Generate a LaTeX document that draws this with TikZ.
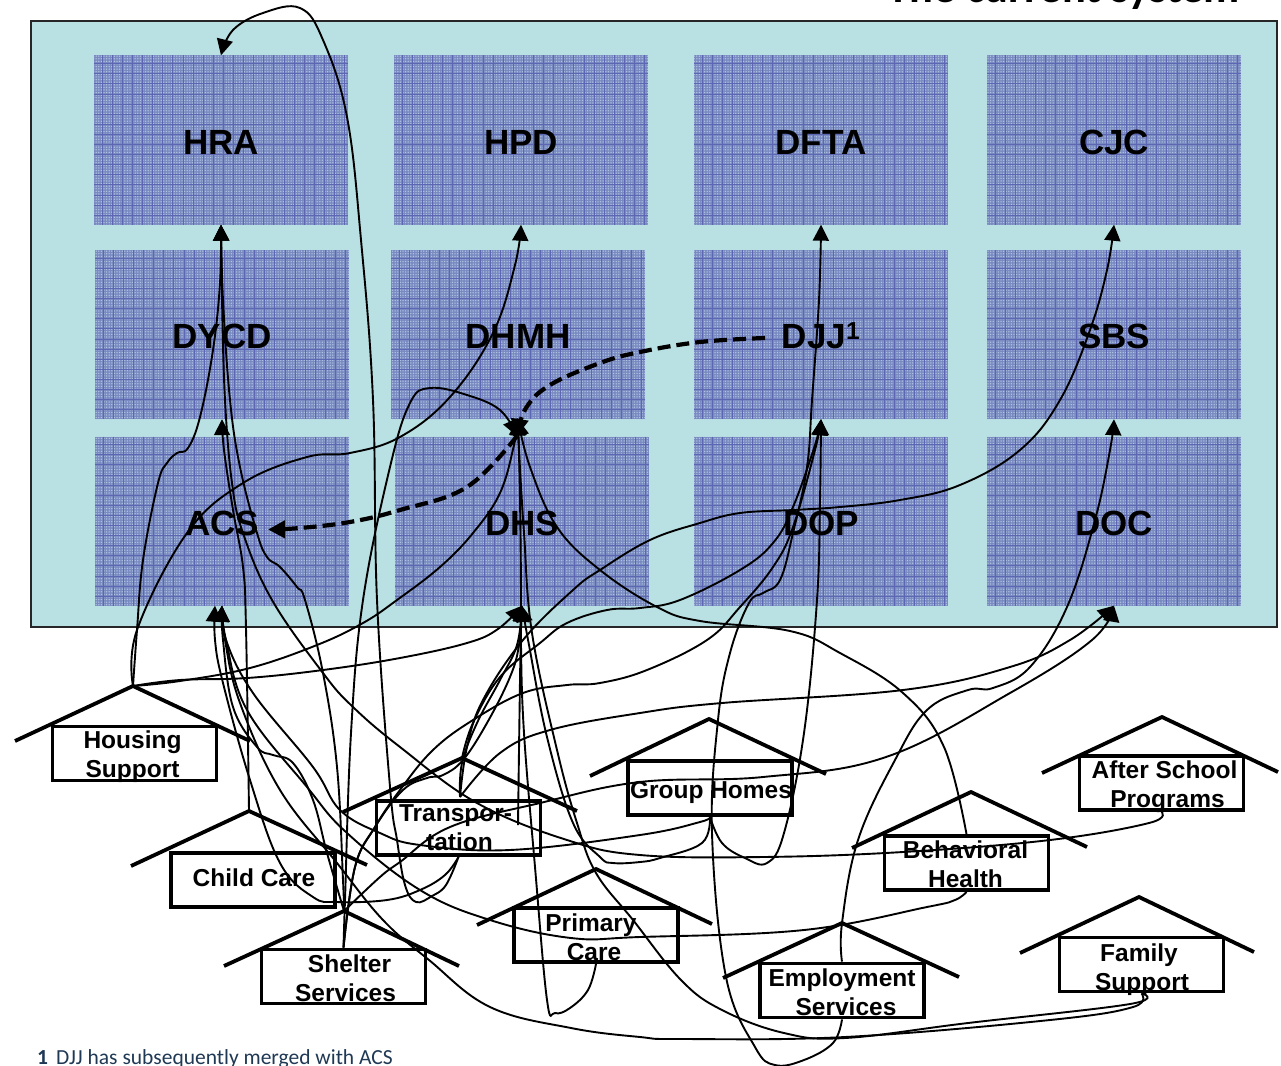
\documentclass[tikz,border=0pt]{standalone}
\usepackage{fontspec}
\setmainfont{Liberation Sans}
\newfontfamily\carlito{Carlito}
\usetikzlibrary{arrows.meta,calc,patterns.meta}
\definecolor{panelteal}{RGB}{185,224,226}
\definecolor{agencyfill}{RGB}{120,138,192}
\definecolor{agencydot}{RGB}{178,196,228}
\definecolor{agencygrid}{RGB}{92,102,178}
\definecolor{footcol}{RGB}{31,56,84}
\newcommand{\hlabel}[3]{\smash{\raisebox{\dimexpr#2-6pt\relax}{\makebox[0pt]{\hspace*{#1}\begin{tabular}{@{}c@{}}#3\end{tabular}}}}}
\tikzset{
  panel/.style={draw=black!85,line width=1.6pt,fill=panelteal,inner sep=0pt,minimum width=1246pt,minimum height=606pt},
  agency/.style={inner sep=0pt,minimum width=254pt,minimum height=169pt,
     font=\fontsize{35}{37}\selectfont\bfseries,text height=28pt,text depth=0pt,
     preaction={fill=agencyfill},
     preaction={pattern={Dots[distance=2.6pt,radius=.75pt]},pattern color=agencydot},
     path picture={
       \foreach \i in {1,...,25} \draw[agencygrid,line width=.7pt]
          ([xshift=\i*10.1pt-2pt]path picture bounding box.north west) -- ([xshift=\i*10.1pt-2pt]path picture bounding box.south west);
       \foreach \i in {1,...,16} \draw[agencygrid,line width=.7pt]
          ([yshift=-\i*10.1pt+2pt]path picture bounding box.north west) -- ([yshift=-\i*10.1pt+2pt]path picture bounding box.north east);
     }},
  housebox/.style={draw=black,line width=3.8pt,inner sep=0pt,minimum width=164pt,minimum height=54pt,
     font=\fontsize{24.5}{29}\selectfont\bfseries},
  roof/.style={draw=black,line width=3.8pt,line join=miter},
  conn/.style={draw=black,line width=1.9pt,-{Triangle[length=16pt,width=16pt]}},
  dashconn/.style={draw=black,line width=4.2pt,dash pattern=on 13pt off 6pt,-{Triangle[length=17pt,width=17pt]}},
  sm/.style={smooth,tension=0.65}
}
\newcommand{\curve}[1]{\draw[conn] plot[sm] coordinates {#1};}
\begin{document}
\begin{tikzpicture}[x=1pt,y=-1pt]
\useasboundingbox (0,0) rectangle (1281,1065);
\node[font=\carlito\fontsize{44.5}{48}\selectfont\bfseries,anchor=base east,inner sep=0pt] (title) at (1240,3) {The current system};
\node[panel] (system) at (654,324) {};
% agencies
\node[agency] (hra) at (221,140) {HRA};
\node[agency] (hpd) at (521,140) {HPD};
\node[agency] (dfta) at (821,140) {DFTA};
\node[agency] (cjc) at (1114,140) {CJC};
\node[agency] (dycd) at (222,334.5) {DYCD};
\node[agency] (dhmh) at (518,334.5) {DHMH};
\node[agency] (djj) at (821,334.5) {DJJ\textsuperscript{1}};
\node[agency] (sbs) at (1114,334.5) {SBS};
\node[agency] (acs) at (222,521) {ACS};
\node[agency] (dhs) at (522,521) {DHS};
\node[agency] (dop) at (821,521) {DOP};
\node[agency] (doc) at (1114,521) {DOC};
% houses
\node[housebox] (housing) at (134.5,753.5) {\hlabel{-4pt}{-3.5pt}{Housing\\Support}};
\draw[roof] (15,741) -- (133,686) coordinate (housingA) -- (250,741);
\node[housebox] (child) at (253,880) {\hlabel{2pt}{-1pt}{Child Care}};
\draw[roof] (131,866) -- (249,811) coordinate (childA) -- (367,865);
\node[housebox] (shelter) at (343.5,976.5) {\hlabel{4pt}{-5pt}{\hspace*{8pt}Shelter\\Services}};
\draw[roof] (224,966) -- (344,911) coordinate (shelterA) -- (459,966);
\node[housebox] (transp) at (458.5,828) {\hlabel{-6pt}{-2pt}{Transpor-\\\hspace*{8pt}tation}};
\draw[roof] (343,812) -- (462,758) coordinate (transpA) -- (577,811);
\node[housebox] (primary) at (596,935) {\hlabel{-10pt}{-5pt}{Primary\\\hspace*{6pt}Care}};
\draw[roof] (477,925) -- (596,869) coordinate (primaryA) -- (712,924);
\node[housebox] (group) at (710,788) {\hlabel{2pt}{-5pt}{Group Homes}};
\draw[roof] (590,776) -- (709,719) coordinate (groupA) -- (826,774);
\node[housebox] (after) at (1161.5,783) {\hlabel{6pt}{-4pt}{After School\\\hspace*{6pt}Programs}};
\draw[roof] (1042,773) -- (1162,717) coordinate (afterA) -- (1278,772);
\node[housebox] (behav) at (966.5,863) {\hlabel{-2pt}{-4pt}{Behavioral\\Health}};
\draw[roof] (852,848) -- (971,792) coordinate (behavA) -- (1087,847);
\node[housebox] (family) at (1141.5,964.5) {\hlabel{-5pt}{-6pt}{Family\\\hspace*{6pt}Support}};
\draw[roof] (1020,953) -- (1139,897) coordinate (familyA) -- (1254,952);
\node[housebox] (employ) at (842,990.5) {\hlabel{0pt}{-5pt}{Employment\\\hspace*{8pt}Services}};
\draw[roof] (723,978) -- (842,923) coordinate (employA) -- (959,977);
% free ends
\coordinate (transpMid) at (460,797);
\coordinate (dhsStub) at (518,825);
\coordinate (acsLeft) at ($(acs.south)+(-7,0)$);
\coordinate (djjStart) at (765,338);
\coordinate (hub) at (517,436);
% connectors
\curve{(transp.south) (446,885) (432,896) (416,902) (405,885) (397,840) (390,787) (377,600) (373,400) (361,240) (347,117) (323,40) (300,8) (263,13) (233,30) (hra.north)}
\curve{(housingA) (137,630) (143,560) (158,483) (167,463) (177,453) (188,448) (200,417) (213,350) (220,283) (hra.south)}
\curve{(housingA) (137,630) (187,533) (243,483) (307,457) (350,453) (400,437) (450,397) (493,333) (515,265) (hpd.south)}
\curve{(housingA) (180,680) (247,678) (323,670) (400,658) (467,643) (498,629) (dhs.south)}
\curve{(housingA) (180,681) (250,668) (317,645) (363,623) (397,600) (440,567) (473,533) (500,493) (514,445) (dhmh.south)}
\curve{(childA) (246,628) (243,567) (233,510) (224,450) (dycd.south)}
\curve{(shelterA) (343,880) (337,767) (323,673) (305,600) (297,587) (280,567) (267,557) (257,533) (240,467) (230,400) (223,300) (hra.south)}
\curve{(after.south) (1149,823) (1050,840) (903,852) (763,857) (640,855) (567,840) (477,803) (400,747) (353,707) (323,673) (272,600) (243,533) (232,483) (225,400) (222,300) (hra.south)}
\curve{(transp.south) (445,875) (420,890) (387,900) (337,902) (313,897) (280,863) (250,780) (223,683) (215,640) (acsLeft)}
\curve{(shelterA) (327,853) (313,800) (293,763) (273,755) (257,747) (233,707) (223,640) (acs.south)}
\curve{(family.south) (1133,1007) (1050,1020) (845,1037) (681,1039) (640,1037) (571,1028) (490,1007) (429,960) (383,920) (337,863) (280,790) (240,703) (225,640) (acs.south)}
\curve{(behav.south) (955,900) (927,907) (804,930) (640,937) (571,938) (490,920) (420,890) (347,833) (307,787) (247,710) (226,640) (acs.south)}
\curve{(group.south) (700,822) (640,835) (510,850) (420,845) (380,833) (340,810) (313,767) (253,693) (226,640) (acs.south)}
\curve{(primary.south) (588,990) (570,1008) (555,1013) (547,1000) (535,867) (524,733) (521,645) (dhs.south)}
\curve{(group.south) (702,843) (660,858) (640,862) (613,863) (600,857) (573,823) (547,737) (529,645) (dhs.south)}
\curve{(dhsStub) (519,750) (520,680) (521,605) (520,500) (dhmh.south)}
\curve{(shelter.north) (355,867) (375,827) (403,790) (427,778) (443,775) (463,760) (487,723) (510,677) (519,645) (dhs.south)}
\curve{(transpMid) (462,763) (477,723) (500,680) (517,645) (dhs.south)}
\curve{(transpMid) (467,747) (483,700) (523,640) (573,590) (600,570) (650,540) (700,523) (740,513) (793,510) (840,507) (900,500) (960,485) (1020,450) (1060,400) (1090,330) (1107,270) (cjc.south)}
\curve{(transpMid) (500,753) (550,730) (640,713) (722,703) (903,690) (1010,667) (1070,640) (doc.south)}
\curve{(shelterA) (380,877) (400,862) (450,827) (540,803) (640,782) (763,777) (886,757) (1010,693) (1092,640) (doc.south)}
\curve{(employ.north) (842,923) (858,840) (895,760) (927,710) (968,690) (993,688) (1030,667) (1067,607) (1095,520) (1110,450) (sbs.south)}
\curve{(transpA) (473,723) (500,677) (540,643) (567,623) (607,610) (640,608) (680,600) (740,570) (773,543) (793,507) (815,445) (djj.south)}
\curve{(shelter.north) (355,867) (375,827) (400,790) (433,750) (473,720) (523,693) (567,685) (600,683) (647,670) (707,640) (740,607) (773,567) (793,527) (815,450) (djj.south)}
\curve{(group.south) (722,843) (745,858) (767,863) (784,833) (804,733) (817,600) (820,500) (djj.south)}
\curve{(employ.south) (833,1043) (804,1060) (775,1065) (755,1047) (726,977) (712,833) (718,720) (730,653) (749,603) (763,593) (780,580) (793,533) (807,467) (812,400) (819,300) (dfta.south)}
\curve{(behav.north) (944,747) (903,693) (840,653) (790,631) (700,621) (657,607) (600,570) (557,527) (530,467) (dhmh.south)}
\curve{(family.south) (1130,1004) (968,1023) (845,1038) (784,1033) (722,1010) (681,980) (633,920) (596,873) (577,823) (557,750) (532,633) (524,533) (519,450) (dhmh.south)}
\curve{(shelter.north) (345,900) (351,733) (363,600) (390,467) (410,403) (430,388) (467,395) (500,410) (hub)}
% dashed
\draw[dashconn] plot[sm] coordinates {(djjStart) (700,342) (640,352) (600,363) (550,385) (526,408) (hub)};
\draw[dashconn] plot[sm] coordinates {(hub) (467,487) (400,510) (350,522) (300,528) (268,529.5)};
% footnote
\node[font=\carlito\fontsize{21.5}{24}\selectfont,text=footcol,anchor=base west,inner sep=0pt] (footnote) at (37,1064) {\textbf{1}\hspace{8pt}DJJ has subsequently merged with ACS};
\end{tikzpicture}
\end{document}
